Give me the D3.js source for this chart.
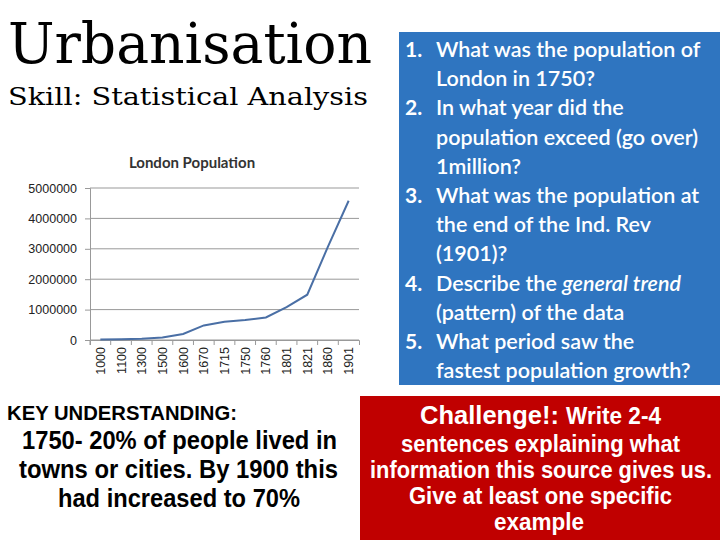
<!DOCTYPE html>
<html><head><meta charset="utf-8">
<script src="https://cdn.jsdelivr.net/npm/d3@7"></script>
<style>body{margin:0;background:#fff}svg{display:block}</style>
</head><body>
<svg id="s" width="720" height="540"></svg>
<script>
const years = ["1000","1100","1300","1500","1600","1670","1715","1750","1760","1801","1821","1860","1901"];
const population = [15000,25000,40000,80000,200000,480000,600000,660000,740000,1080000,1490000,3070000,4580000];
const yTicks = [0,1000000,2000000,3000000,4000000,5000000];
const questions = [
 ["1.","What was the population of","London in 1750?"],
 ["2.","In what year did the","population exceed (go over)","1million?"],
 ["3.","What was the population at","the end of the Ind. Rev","(1901)?"],
 ["4.","Describe the |general trend|","(pattern) of the data"],
 ["5.","What period saw the","fastest population growth?"]
];
const svg = d3.select("#s");
const sf = "DejaVu Serif, Liberation Serif, serif";
svg.append("text").attr("x",8).attr("y",63).attr("font-family",sf)
  .attr("font-size",56).attr("textLength",364).attr("lengthAdjust","spacingAndGlyphs").text("Urbanisation");
svg.append("text").attr("x",8).attr("y",105).attr("font-family",sf)
  .attr("font-size",25).attr("textLength",360).attr("lengthAdjust","spacingAndGlyphs").text("Skill: Statistical Analysis");

// chart
const m = {l:90,r:359,t:188,b:340};
const xb = d3.scaleBand().domain(years).range([m.l,m.r]);
const xc = d => xb(d)+xb.bandwidth()/2;
const y = d3.scaleLinear().domain([0,5000000]).range([m.b,m.t]);
const g = svg.append("g").attr("font-family","Liberation Sans, Arial, sans-serif");
g.append("text").attr("x",192).attr("y",168).attr("text-anchor","middle").attr("font-weight","bold")
  .attr("font-family","Lato, Open Sans, sans-serif").attr("font-size",15).attr("fill","#333").text("London Population");
g.selectAll("line.grid").data(yTicks).join("line").attr("x1",m.l).attr("x2",m.r)
  .attr("y1",d=>y(d)).attr("y2",d=>y(d)).attr("stroke","#999").attr("stroke-width",1);
const ya = g.append("g").attr("transform",`translate(${m.l},0)`).call(d3.axisLeft(y).tickValues(yTicks).tickFormat(d3.format("d")).tickSize(5).tickPadding(8));
ya.selectAll("text").attr("font-size",12.5).attr("fill","#222");
ya.selectAll("line,path").attr("stroke","#999");
const xa = g.append("g").attr("transform",`translate(0,${m.b})`).call(d3.axisBottom(xb).tickSize(5).tickFormat(()=>""));
xa.selectAll("line,path").attr("stroke","#999");
xa.selectAll(".tick line").attr("transform",`translate(${-xb.bandwidth()/2},0)`);
g.selectAll("text.xl").data(years).join("text").attr("class","xl")
  .attr("transform",d=>`translate(${xc(d)+4.5},${m.b+7}) rotate(-90)`).attr("text-anchor","end")
  .attr("font-size",12.5).attr("fill","#222").text(d=>d);
g.append("path").datum(population).attr("fill","none").attr("stroke","#4a6fa5").attr("stroke-width",2)
  .attr("d",d3.line().x((d,i)=>xc(years[i])).y(d=>y(d)));

// blue box
svg.append("rect").attr("x",399).attr("y",32).attr("width",321).attr("height",353).attr("fill","#2f75c0");
const qf = "Lato, Open Sans, sans-serif";
let ly = 57;
questions.forEach(q=>{
  q.slice(1).forEach((line,i)=>{
    if(i===0) svg.append("text").attr("x",405).attr("y",ly).attr("fill","#fff").attr("font-family",qf)
      .attr("font-weight",700).attr("font-size",21).text(q[0]);
    const t = svg.append("text").attr("x",436).attr("y",ly).attr("fill","#fff").attr("font-family",qf)
      .attr("font-weight",600).attr("font-size",21.5);
    line.split("|").forEach((p,j)=>t.append("tspan").attr("font-style",j%2?"italic":null).text(p));
    const w = t.node().getComputedTextLength();
    if(w>276) t.attr("textLength",276).attr("lengthAdjust","spacingAndGlyphs");
    ly += 29.2;
  });
});

// red box
svg.append("rect").attr("x",360).attr("y",396).attr("width",360).attr("height",144).attr("fill","#c00000");
const nf = "Liberation Sans, Arial, sans-serif";
function narrow(sel,len){ sel.attr("textLength",len).attr("lengthAdjust","spacingAndGlyphs"); return sel; }
const t0 = svg.append("text").attr("x",420).attr("y",424).attr("fill","#fff").attr("font-family",nf).attr("font-weight","bold").attr("font-size",23);
t0.append("tspan").attr("font-size",26).text("Challenge!: ");
t0.append("tspan").text("Write 2-4");
narrow(t0,241);
[["sentences explaining what",401,279,452],["information this source gives us.",370,342,478],["Give at least one specific",409,263,504],["example",494,90,530]].forEach(([s,x0,len,yy])=>
  narrow(svg.append("text").attr("x",x0).attr("y",yy).attr("fill","#fff").attr("font-family",nf).attr("font-weight","bold").attr("font-size",23).text(s),len));
narrow(svg.append("text").attr("x",7).attr("y",420).attr("font-family",nf).attr("font-weight","bold").attr("font-size",20).text("KEY UNDERSTANDING:"),230);
[["1750- 20% of people lived in",22,315,449],["towns or cities. By 1900 this",19,319,478],["had increased to 70%",58,242,507]].forEach(([s,x0,len,yy])=>
  narrow(svg.append("text").attr("x",x0).attr("y",yy).attr("font-family",nf).attr("font-weight","bold").attr("font-size",25).text(s),len));
</script></body></html>
